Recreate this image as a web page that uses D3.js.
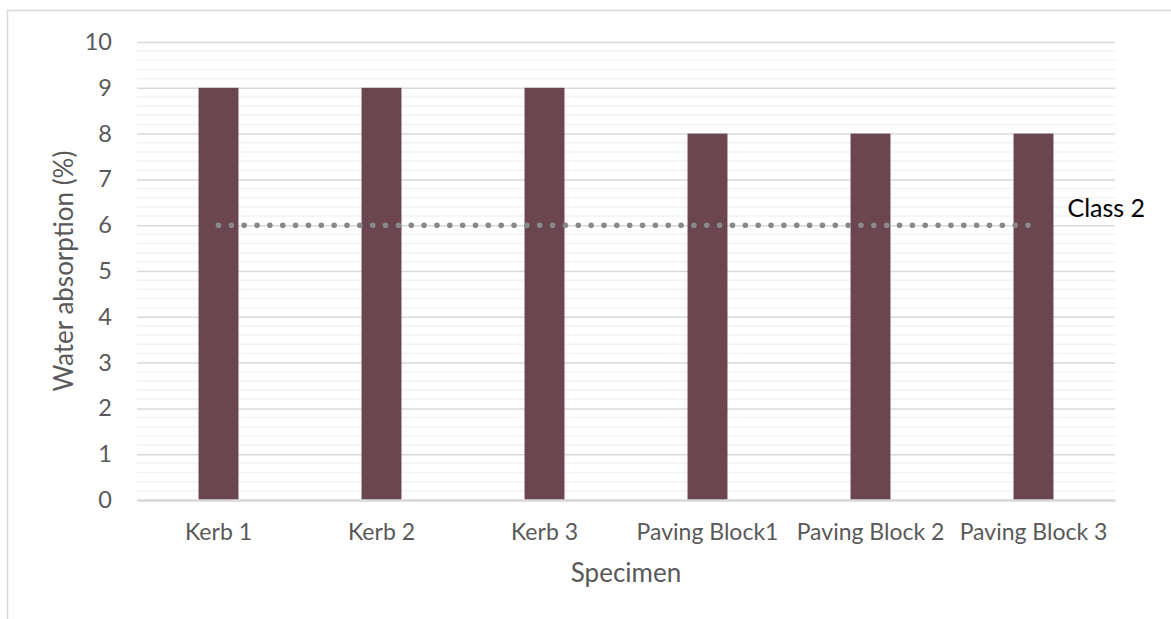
<!DOCTYPE html>
<html>
<head>
<meta charset="utf-8">
<script src="https://cdn.jsdelivr.net/npm/d3@7"></script>
<style>
  html, body { margin: 0; padding: 0; background: #ffffff; }
  svg { display: block; }
  text { font-family: Lato, "Open Sans", sans-serif; }
</style>
</head>
<body>
<svg id="chart" width="1171" height="619"></svg>
<script>
// Specimens and measured water absorption (%)
const categories = ["Kerb 1", "Kerb 2", "Kerb 3", "Paving Block1", "Paving Block 2", "Paving Block 3"];
const absorption = [9, 9, 9, 8, 8, 8];
// Class 2 limit drawn as a dotted reference line
const class2Limit = [6, 6, 6, 6, 6, 6];
const class2Label = "Class 2";
const yTicks = [0, 1, 2, 3, 4, 5, 6, 7, 8, 9, 10];

const svg = d3.select("#chart");
const W = 1171, H = 619;

// chart frame (extends past the right and bottom edges)
svg.append("rect")
  .attr("x", 7.5).attr("y", 10.5)
  .attr("width", W + 10).attr("height", H + 10)
  .attr("fill", "#ffffff")
  .attr("stroke", "#d9d9d9").attr("stroke-width", 1.5);

const plot = { left: 137, right: 1115, top: 42, bottom: 500 };

const x = d3.scaleBand()
  .domain(categories)
  .range([plot.left, plot.right])
  .paddingInner(0.755)
  .paddingOuter(0.3775);

const xc = d3.scalePoint()
  .domain(categories)
  .range([plot.left, plot.right])
  .padding(0.5);

const y = d3.scaleLinear().domain([0, 10]).range([plot.bottom, plot.top]);

// minor gridlines every 0.2
const minor = d3.range(0, 10.0001, 0.2).filter(v => Math.abs(v - Math.round(v)) > 1e-6);
svg.append("g").selectAll("line").data(minor).join("line")
  .attr("x1", plot.left).attr("x2", plot.right)
  .attr("y1", d => y(d)).attr("y2", d => y(d))
  .attr("stroke", "#f2f2f2").attr("stroke-width", 1.5);

// major gridlines + tick labels via a left axis
const yAxis = d3.axisLeft(y).tickValues(yTicks).tickSize(-(plot.right - plot.left)).tickPadding(25);
const gy = svg.append("g").attr("transform", `translate(${plot.left},0)`).call(yAxis);
gy.select(".domain").remove();
gy.selectAll(".tick line").attr("stroke", "#d9d9d9").attr("stroke-width", 1.5);
gy.selectAll(".tick text")
  .attr("fill", "#595959")
  .style("font-size", "23.5px");

// bars
svg.append("g").selectAll("rect").data(absorption).join("rect")
  .attr("x", (d, i) => x(categories[i]))
  .attr("width", x.bandwidth())
  .attr("y", d => y(d))
  .attr("height", d => y(0) - y(d))
  .attr("fill", "#6b4550");

// category axis
const xAxis = d3.axisBottom(x).tickSize(0).tickPadding(24);
const gx = svg.append("g").attr("transform", `translate(0,${plot.bottom})`).call(xAxis);
gx.select(".domain").attr("stroke", "#d9d9d9").attr("stroke-width", 2.5);
gx.selectAll(".tick text")
  .attr("fill", "#595959")
  .style("font-size", "23px");

// class 2 dotted line
const line = d3.line().x((d, i) => xc(categories[i])).y(d => y(d));
svg.append("path")
  .datum(class2Limit)
  .attr("d", line)
  .attr("fill", "none")
  .attr("stroke", "#898989")
  .attr("stroke-width", 5.6)
  .attr("stroke-linecap", "round")
  .attr("stroke-dasharray", "0 12.85");

// label beside the last point
const last = class2Limit.length - 1;
svg.append("text")
  .attr("x", xc(categories[last]) + 34)
  .attr("y", y(class2Limit[last]) - 8)
  .attr("fill", "#000000")
  .style("font-size", "25px")
  .text(class2Label);

// axis titles
svg.append("text")
  .attr("x", (plot.left + plot.right) / 2)
  .attr("y", 582)
  .attr("text-anchor", "middle")
  .attr("fill", "#595959")
  .style("font-size", "26px")
  .text("Specimen");

svg.append("text")
  .attr("transform", `translate(73,${(plot.top + plot.bottom) / 2}) rotate(-90)`)
  .attr("text-anchor", "middle")
  .attr("fill", "#595959")
  .style("font-size", "26px")
  .text("Water absorption (%)");
</script>
</body>
</html>
